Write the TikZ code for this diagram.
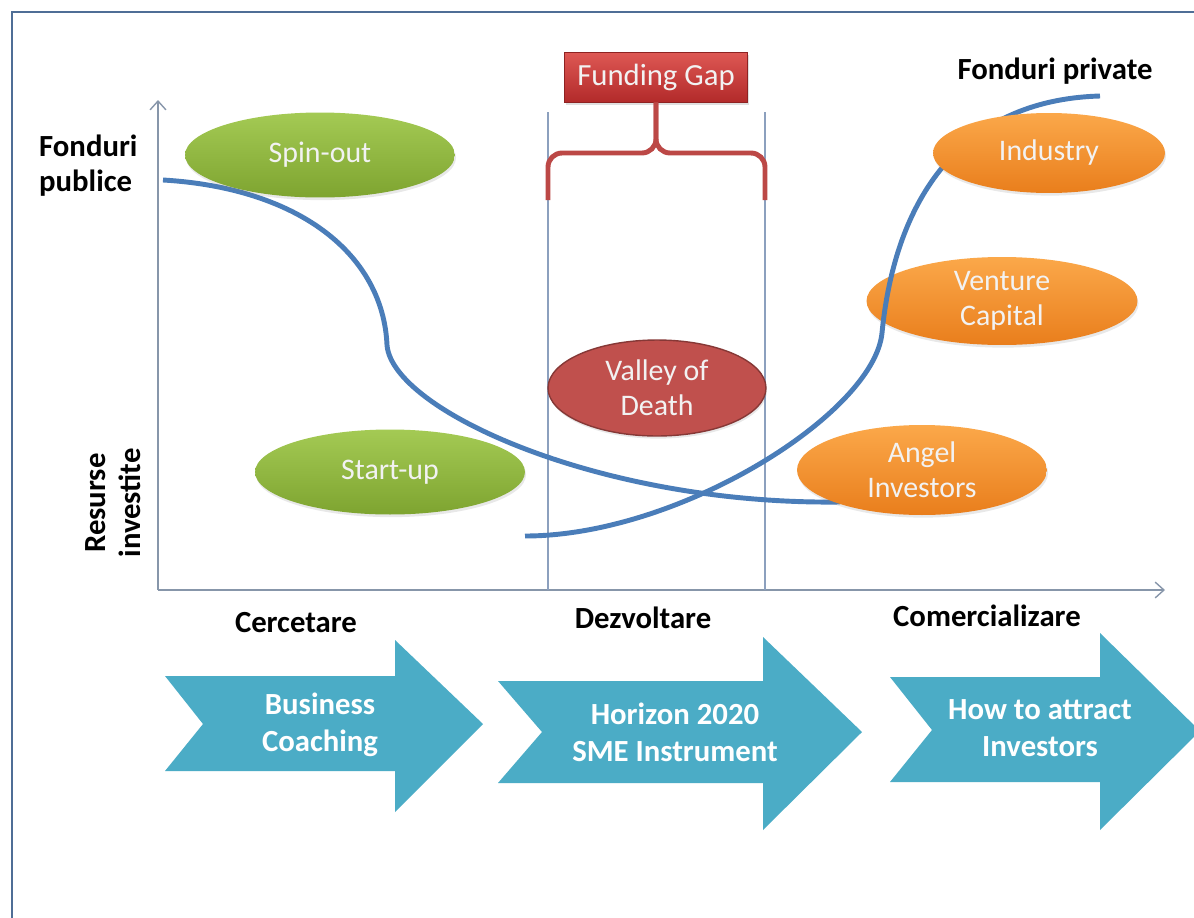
\documentclass[tikz,border=0pt]{standalone}
\usepackage{fontspec}
\setmainfont{Carlito}
\usetikzlibrary{shapes.geometric}
\usetikzlibrary{arrows.meta}
\usetikzlibrary{shadows}
\usetikzlibrary{calc}
\definecolor{frameblue}{RGB}{79,110,150}
\definecolor{axisgrey}{RGB}{135,150,170}
\definecolor{gapline}{RGB}{140,160,190}
\definecolor{curveblue}{RGB}{74,125,185}
\definecolor{greenlight}{RGB}{164,202,84}
\definecolor{greendark}{RGB}{126,164,48}
\definecolor{orangelight}{RGB}{251,168,74}
\definecolor{orangedark}{RGB}{233,126,28}
\definecolor{redlight}{RGB}{222,88,84}
\definecolor{reddark}{RGB}{178,42,42}
\definecolor{valleyred}{RGB}{192,80,77}
\definecolor{bracered}{RGB}{188,72,70}
\definecolor{chevron}{RGB}{75,172,198}
\tikzset{
  bubble/.style={ellipse, inner sep=0pt, align=center, text=white!95!black,
    font=\fontsize{17}{20}\selectfont,
    drop shadow={opacity=0.18, shadow xshift=0.6pt, shadow yshift=-1.5pt}},
  greenbubble/.style={bubble, top color=greenlight, bottom color=greendark},
  orangebubble/.style={bubble, top color=orangelight, bottom color=orangedark},
  axislabel/.style={font=\bfseries\fontsize{17.5}{20}\selectfont},
  stagetext/.style={text=white, align=center,
    font=\bfseries\fontsize{17.5}{21}\selectfont},
  pastcurve/.style={curveblue, line width=2.8pt},
}

\begin{document}
\begin{tikzpicture}[x=0.02cm,y=-0.02cm]
\useasboundingbox (0,0) rectangle (1194,917);
\fill[white] (0,0) rectangle (1194,917);
\draw[frameblue, line width=1.7pt] (12,940) -- (12,12) -- (1220,12);

%%%%%%%%%%%%%%%%%%%%%%%%%%%%%%%%%%%%%%%%%%%%%%%%%%%%%%%%%%%%%% axes
\coordinate (O) at (158,590);

\draw[axisgrey, line width=0.8pt, -{Straight Barb[length=5pt,width=9pt]}] (O) -- ($(O)+(0,-490)$);
\draw[axisgrey, line width=0.8pt, -{Straight Barb[length=5pt,width=9pt]}] (O) -- ($(O)+(1007,0)$);

\coordinate (L1) at (548,112);
\coordinate (L2) at (765,112);
\draw[gapline, line width=0.7pt] (L1) -- (L1 |- O);
\draw[gapline, line width=0.7pt] (L2) -- (L2 |- O);

\node[axislabel, align=left, anchor=west] (publ) at (33,166) {Fonduri\\publice};
\node[axislabel] (priv) at (1055,71) {Fonduri private};
\node[axislabel, align=center, rotate=90] (res) at (113,503) {Resurse\\investite};
\node[axislabel] (cerc) at (296,623) {Cercetare};
\node[axislabel] (dezv) at (643,618) {Dezvoltare};
\node[axislabel] (comr) at (987,616) {Comercializare};

%%%%%%%%%%%%%%%%%%%%%%%%%%%%%%%%%%%%%%%%%%%%%%%%%%%%%%%%%%%%%% bubbles behind the curves
\node[orangebubble, minimum width=5.42cm, minimum height=1.76cm] (vc) at (1002,301) {Venture\\Capital};

%%%%%%%%%%%%%%%%%%%%%%%%%%%%%%%%%%%%%%%%%%%%%%%%%%%%%%%%%%%%%% curves
\draw[pastcurve] (163,180) .. controls (300,188) and (383,255) .. (387,345)
  .. controls (392,410) and (600,505) .. (840,502);
\draw[pastcurve] (525,536) .. controls (680,536) and (874,413) .. (882,333)
  .. controls (895,200) and (960,100) .. (1100,96);

%%%%%%%%%%%%%%%%%%%%%%%%%%%%%%%%%%%%%%%%%%%%%%%%%%%%%%%%%%%%%% funding gap
\node[minimum width=3.66cm, minimum height=1cm, draw=reddark!80!black,
  top color=redlight, bottom color=reddark, text=white!95!black,
  drop shadow={opacity=0.25, shadow xshift=0.6pt, shadow yshift=-1.5pt},
  font=\fontsize{17.5}{20}\selectfont] (gap) at (656,77) {Funding Gap};

\coordinate (B1) at (548,200);
\coordinate (B2) at (765,200);
\coordinate (Bm) at (656,153);
\draw[bracered, line width=2.8pt, rounded corners=8pt] (B1) |- (Bm) -- (gap.south);
\draw[bracered, line width=2.8pt, rounded corners=8pt] (B2) |- (Bm) -- (gap.south);

%%%%%%%%%%%%%%%%%%%%%%%%%%%%%%%%%%%%%%%%%%%%%%%%%%%%%%%%%%%%%% bubbles
\node[greenbubble, minimum width=5.4cm, minimum height=1.7cm] (spin) at (320,155) {Spin-out};
\node[greenbubble, minimum width=5.4cm, minimum height=1.7cm] (start) at (390,472) {Start-up};
\node[bubble, fill=valleyred, draw=valleyred!70!black, line width=0.8pt,
  minimum width=4.36cm, minimum height=1.92cm] (valley) at (657,388) {Valley of\\Death};
\node[orangebubble, minimum width=4.64cm, minimum height=1.6cm] (ind) at (1049,153) {Industry};
\node[orangebubble, minimum width=5.0cm, minimum height=1.8cm] (angel) at (922,470) {Angel\\Investors};

%%%%%%%%%%%%%%%%%%%%%%%%%%%%%%%%%%%%%%%%%%%%%%%%%%%%%%%%%%%%%% stages
\coordinate (A) at (165,676);
\fill[chevron] (A) -- ($(A)+(230,0)$) -- ($(A)+(230,-36)$) -- ($(A)+(318,48)$)
  -- ($(A)+(230,136)$) -- ($(A)+(230,95)$) -- ($(A)+(0,95)$) -- ($(A)+(38,48)$) -- cycle;
\node[stagetext] (coach) at (320,725) {Business\\Coaching};

\coordinate (A) at (498,681);
\fill[chevron] (A) -- ($(A)+(265,0)$) -- ($(A)+(265,-44)$) -- ($(A)+(364,51)$)
  -- ($(A)+(265,149)$) -- ($(A)+(265,102)$) -- ($(A)+(0,102)$) -- ($(A)+(44,51)$) -- cycle;
\node[stagetext] (sme) at (675,732) {Horizon 2020\\SME Instrument};

\coordinate (A) at (890,677);
\fill[chevron] (A) -- ($(A)+(210,0)$) -- ($(A)+(210,-44)$) -- ($(A)+(310,54)$)
  -- ($(A)+(210,153)$) -- ($(A)+(210,105)$) -- ($(A)+(0,105)$) -- ($(A)+(42,53)$) -- cycle;
\node[stagetext] (invest) at (1040,728) {How to attract\\Investors};

\end{tikzpicture}
\end{document}
